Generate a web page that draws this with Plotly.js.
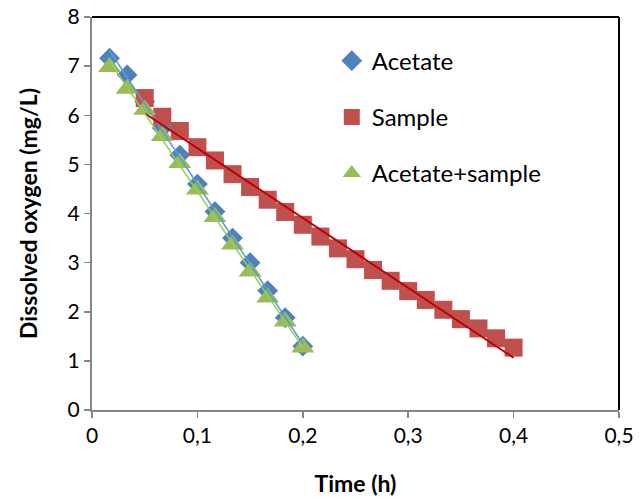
<!DOCTYPE html>
<html>
<head>
<meta charset="utf-8">
<script src="https://cdn.plot.ly/plotly-3.0.1.min.js"></script>
<style>html,body{margin:0;padding:0;background:#fff;}#chart{width:639px;height:504px;}</style>
</head>
<body>
<div id="chart"></div>
<script>
// Time in hours (1-minute steps)
const acetateTime = [1/60, 2/60, 3/60, 4/60, 5/60, 6/60, 7/60, 8/60, 9/60, 10/60, 11/60, 12/60];
const acetateDO   = [7.16, 6.82, 6.28, 5.74, 5.19, 4.60, 4.04, 3.50, 3.00, 2.43, 1.88, 1.30];

const mixTime = [1/60, 2/60, 3/60, 4/60, 5/60, 6/60, 7/60, 8/60, 9/60, 10/60, 11/60, 12/60];
const mixDO   = [6.98, 6.54, 6.11, 5.58, 5.03, 4.49, 3.93, 3.37, 2.82, 2.29, 1.80, 1.27];

const sampleTime = [3/60, 4/60, 5/60, 6/60, 7/60, 8/60, 9/60, 10/60, 11/60, 12/60, 13/60,
                    14/60, 15/60, 16/60, 17/60, 18/60, 19/60, 20/60, 21/60, 22/60, 23/60, 24/60];
const sampleDO   = [6.35, 5.97, 5.68, 5.35, 5.08, 4.80, 4.54, 4.28, 4.03, 3.77, 3.53,
                    3.29, 3.07, 2.85, 2.63, 2.42, 2.24, 2.04, 1.85, 1.66, 1.46, 1.27];

const xTicks = [0, 0.1, 0.2, 0.3, 0.4, 0.5];
const yTicks = [0, 1, 2, 3, 4, 5, 6, 7, 8];

// Linear trendline (least squares), as in the spreadsheet
function trend(xs, ys) {
  const n = xs.length;
  let sx = 0, sy = 0, sxx = 0, sxy = 0;
  for (let i = 0; i < n; i++) { sx += xs[i]; sy += ys[i]; sxx += xs[i]*xs[i]; sxy += xs[i]*ys[i]; }
  const b = (n*sxy - sx*sy) / (n*sxx - sx*sx);
  const a = (sy - b*sx) / n;
  const x0 = Math.min(...xs), x1 = Math.max(...xs);
  return {x: [x0, x1], y: [a + b*x0, a + b*x1]};
}

const tA = trend(acetateTime, acetateDO);
const tS = trend(sampleTime, sampleDO);
const tM = trend(mixTime, mixDO);

const FONT = 'Lato, "Open Sans", sans-serif';

const traces = [
  {x: acetateTime, y: acetateDO, name: 'Acetate', mode: 'markers', type: 'scatter',
   marker: {symbol: 'diamond', size: 16, color: '#4F81BD'}, legendgroup: 'a'},
  {x: sampleTime, y: sampleDO, name: 'Sample', mode: 'markers', type: 'scatter',
   marker: {symbol: 'square', size: 18, color: '#C0504D'}, legendgroup: 'b'},
  {x: mixTime, y: mixDO, name: 'Acetate+sample', mode: 'markers', type: 'scatter',
   marker: {symbol: 'triangle-up', size: 20, color: '#9BBB59'}, legendgroup: 'c'},
  {x: tA.x, y: tA.y, mode: 'lines', type: 'scatter', showlegend: false, hoverinfo: 'skip',
   line: {color: '#5B9BD5', width: 1.5}},
  {x: tS.x, y: tS.y, mode: 'lines', type: 'scatter', showlegend: false, hoverinfo: 'skip',
   line: {color: '#C00000', width: 2}},
  {x: tM.x, y: tM.y, mode: 'lines', type: 'scatter', showlegend: false, hoverinfo: 'skip',
   line: {color: '#92D050', width: 1.5}}
];

const layout = {
  width: 639, height: 504,
  margin: {l: 92, r: 20, t: 17, b: 94, pad: 0},
  paper_bgcolor: '#ffffff', plot_bgcolor: '#ffffff',
  separators: ',.',
  font: {family: FONT, size: 21, color: '#000'},
  showlegend: true,
  legend: {x: 0.455, y: 0.945, xanchor: 'left', yanchor: 'top',
           font: {family: FONT, size: 24, color: '#000'},
           traceorder: 'grouped', tracegroupgap: 22, bgcolor: 'rgba(0,0,0,0)',
           itemwidth: 30},
  xaxis: {range: [0, 0.5], tickvals: xTicks, showgrid: false, zeroline: false,
          showline: true, linecolor: '#868686', linewidth: 2,
          ticks: 'outside', ticklen: 6, tickcolor: '#868686', tickwidth: 1.5,
          tickfont: {family: FONT, size: 21, color: '#000'},
          title: {text: '<b>Time (h)</b>', font: {family: FONT, size: 23, color: '#000'}, standoff: 30}},
  yaxis: {range: [0, 8], tickvals: yTicks, showgrid: false, zeroline: false,
          showline: true, linecolor: '#868686', linewidth: 2,
          ticks: 'outside', ticklen: 6, tickcolor: '#868686', tickwidth: 1.5,
          tickfont: {family: FONT, size: 21, color: '#000'},
          title: {text: '<b>Dissolved oxygen (mg/L)</b>', font: {family: FONT, size: 23, color: '#000'}, standoff: 24}},
  shapes: [
    {type: 'line', xref: 'paper', yref: 'paper', x0: 0, x1: 1, y0: 1, y1: 1, line: {color: '#000', width: 2}},
    {type: 'line', xref: 'paper', yref: 'paper', x0: 1, x1: 1, y0: 0, y1: 1, line: {color: '#000', width: 2}}
  ]
};

Plotly.newPlot('chart', traces, layout, {displayModeBar: false, staticPlot: true});
</script>
</body>
</html>
